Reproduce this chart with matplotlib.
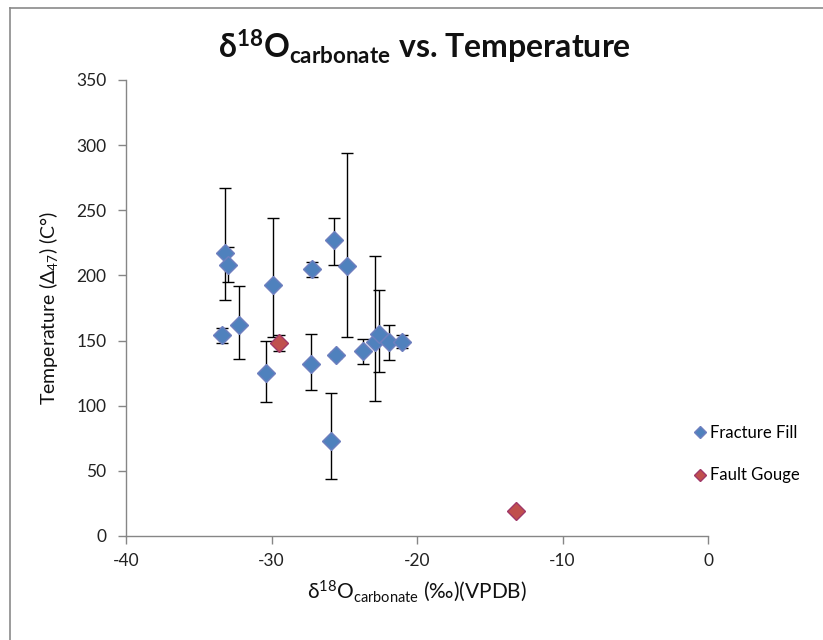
import numpy as np
import matplotlib as mpl
import matplotlib.pyplot as plt
from matplotlib.lines import Line2D

mpl.rcParams.update({"font.family": "Lato", "mathtext.fontset": "custom",
                     "mathtext.rm": "Lato", "mathtext.it": "Lato:italic",
                     "mathtext.bf": "Lato:bold", "axes.unicode_minus": False})

# Fracture Fill: d18O carbonate (permil VPDB), temperature (C) and error bars
ff_x = [-33.2, -33.0, -33.4, -32.2, -29.9, -30.4, -27.2, -27.3, -25.7,
        -24.8, -25.6, -25.9, -23.7, -22.9, -22.6, -21.9, -21.0]
ff_y = [217, 208, 154, 162, 193, 125, 205, 132, 227,
        207, 139, 73, 142, 149, 155, 149, 149]
ff_lo = [36, 13, 6, 26, 40, 22, 6, 20, 19, 54, 2, 29, 10, 45, 29, 14, 5]
ff_hi = [50, 14, 6, 30, 51, 25, 5, 23, 17, 87, 2, 37, 9, 66, 34, 13, 5]
# Fault Gouge
fg_x = [-29.5, -13.2]
fg_y = [148, 19]
fg_lo = [6, 0]
fg_hi = [6, 0]

BLUE = "#4F81BD"; BLUE_E = "#6F7FBF"
RED = "#C0504D"; RED_E = "#A03868"
AX = "#868686"

fig = plt.figure(figsize=(8.23, 6.40), dpi=100)
ax = fig.add_axes([126 / 823, 1 - 536 / 640, 582 / 823, 456 / 640])

ax.errorbar(ff_x, ff_y, yerr=[ff_lo, ff_hi], fmt="none", ecolor="black",
            elinewidth=1.0, capsize=4, capthick=1.0, zorder=2)
ax.errorbar(fg_x, fg_y, yerr=[fg_lo, fg_hi], fmt="none", ecolor="black",
            elinewidth=1.0, capsize=4, capthick=1.0, zorder=2)
ax.plot(ff_x, ff_y, ls="none", marker="D", ms=9, mfc=BLUE, mec=BLUE_E, mew=1.0,
        zorder=3, label="Fracture Fill")
ax.plot(fg_x, fg_y, ls="none", marker="D", ms=9, mfc=RED, mec=RED_E, mew=1.0,
        zorder=3, label="Fault Gouge")

ax.set_xlim(-40, 0)
ax.set_ylim(0, 350)
ax.set_xticks(np.arange(-40, 1, 10))
ax.set_yticks(np.arange(0, 351, 50))
for s in ["top", "right"]:
    ax.spines[s].set_visible(False)
for s in ["left", "bottom"]:
    ax.spines[s].set_color(AX)
    ax.spines[s].set_linewidth(1.0)
ax.tick_params(axis="both", colors=AX, labelcolor="#222222", labelsize=12.5,
               length=6, width=1.0, direction="out")
ax.tick_params(axis="y", pad=8)
ax.tick_params(axis="x", pad=6)

ax.set_xlabel(r"$\mathrm{δ^{18}O_{carbonate}}$ (‰)(VPDB)", fontsize=15, labelpad=7,
              color="#111111")
ax.set_ylabel(r"Temperature ($\mathrm{Δ_{47}}$) (C°)", fontsize=14, labelpad=12,
              color="#111111")
fig.text(424 / 823, 1 - 47 / 640, r"$\mathbf{δ^{18}O_{carbonate}}$ vs. Temperature",
         fontsize=23, fontweight="bold", ha="center", va="center", color="#111111")

ax.legend(loc="center left", bbox_to_anchor=(688 / 823, 1 - 454 / 640),
          bbox_transform=fig.transFigure, frameon=False, fontsize=12,
          markerscale=0.65, handlelength=0.6, handletextpad=0.3, labelspacing=1.6,
          borderaxespad=0)

# chart-area border (left and top edges only are inside the crop)
fig.add_artist(Line2D([10 / 823, 10 / 823], [0, 1 - 8 / 640], transform=fig.transFigure,
                      color="#8a8a8a", lw=1.2))
fig.add_artist(Line2D([10 / 823, 1], [1 - 8 / 640, 1 - 8 / 640], transform=fig.transFigure,
                      color="#8a8a8a", lw=1.2))

fig.savefig("out.png", dpi=100, facecolor="white")
